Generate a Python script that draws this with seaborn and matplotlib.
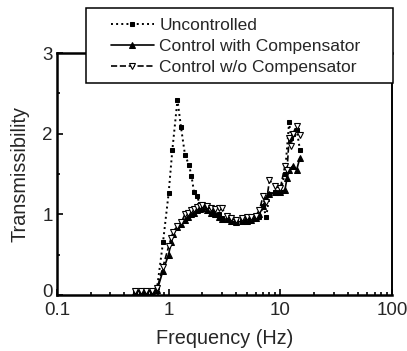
import numpy as np
import pandas as pd
import matplotlib
matplotlib.use("Agg")
import matplotlib.pyplot as plt
import seaborn as sns
from matplotlib.ticker import LogLocator, NullFormatter, FixedLocator
from matplotlib.patches import Rectangle
from matplotlib.transforms import ScaledTranslation

sns.set_style("ticks")
plt.rcParams['font.family'] = ['Liberation Sans', 'DejaVu Sans']

# Uncontrolled
f_unc = [0.50, 0.56, 0.63, 0.71, 0.79, 0.89, 1.00, 1.08, 1.20, 1.29, 1.40, 1.52, 1.60, 1.69,
         1.80, 1.90, 2.0, 2.2, 2.5, 2.8, 3.0, 3.5, 4.0, 4.5, 5.0, 5.5, 6.0, 6.5, 7.0, 7.5,
         8.0, 9.0, 10.0, 11.0, 12.0, 12.5, 13.0, 14.0, 15.0]
t_unc = [0.04, 0.05, 0.05, 0.04, 0.10, 0.65, 1.26, 1.80, 2.42, 2.08, 1.74, 1.61, 1.48, 1.27,
         1.22, 1.13, 1.12, 1.10, 1.05, 1.00, 0.95, 0.95, 0.92, 0.92, 0.93, 0.94, 0.95, 0.96, 1.10, 0.97,
         1.25, 1.27, 1.28, 1.50, 2.14, 1.95, 2.00, 2.05, 1.80]

# Control with Compensator
f_wc = [0.50, 0.56, 0.63, 0.71, 0.79, 0.89, 1.0, 1.05, 1.1, 1.2, 1.3, 1.4, 1.5, 1.6, 1.7, 1.8,
        1.9, 2.0, 2.2, 2.4, 2.6, 2.8, 3.0, 3.3, 3.6, 4.0, 4.5, 5.0, 5.5, 6.0, 6.5, 7.0, 7.5,
        8.0, 9.0, 10.0, 11.0, 11.5, 12.0, 13.0, 14.0, 15.0]
t_wc = [0.04, 0.04, 0.04, 0.04, 0.06, 0.30, 0.50, 0.65, 0.75, 0.84, 0.88, 0.93, 0.97, 1.00, 1.02, 1.05,
        1.07, 1.08, 1.05, 1.02, 1.00, 0.97, 0.94, 0.94, 0.92, 0.90, 0.91, 0.92, 0.93, 0.95, 1.00, 1.10, 1.20,
        1.25, 1.27, 1.28, 1.30, 1.45, 1.55, 1.60, 1.55, 1.70]

# Control w/o Compensator
f_nc = [0.50, 0.56, 0.63, 0.71, 0.79, 0.89, 1.0, 1.05, 1.1, 1.2, 1.3, 1.4, 1.5, 1.6, 1.7, 1.8,
        1.9, 2.0, 2.2, 2.4, 2.6, 2.8, 3.0, 3.3, 3.6, 4.0, 4.5, 5.0, 5.5, 6.0, 6.5, 7.0, 7.5,
        8.0, 9.0, 10.0, 11.0, 11.5, 12.0, 12.5, 13.0, 14.0, 15.0]
t_nc = [0.05, 0.05, 0.05, 0.05, 0.08, 0.35, 0.60, 0.70, 0.78, 0.86, 0.90, 1.00, 1.02, 1.05, 1.07, 1.09,
        1.10, 1.12, 1.10, 1.08, 1.06, 1.08, 1.08, 0.98, 0.95, 0.93, 0.95, 0.96, 0.97, 0.98, 1.05, 1.22, 1.15,
        1.42, 1.35, 1.32, 1.60, 1.55, 1.95, 1.85, 2.00, 2.10, 1.98]

labels = ["Uncontrolled", "Control with Compensator", "Control w/o Compensator"]
xtick_vals = [0.1, 1, 10, 100]
xtick_labels = ['0.1', '1', '10', '100']
ytick_vals = [0, 1, 2, 3]
ytick_labels = ['0', '1', '2', '3']

fig = plt.figure(figsize=(4.07, 3.51), dpi=100)
ax = fig.add_axes([0.140, 0.160, 0.823, 0.689])

sns.lineplot(x=f_unc, y=t_unc, ax=ax, sort=False, color='black', linestyle=':', linewidth=1.4,
             marker='s', markersize=3.3, markerfacecolor='black', markeredgecolor='black', label=labels[0])
sns.lineplot(x=f_wc, y=t_wc, ax=ax, sort=False, color='black', linestyle='-', linewidth=1.2,
             marker='^', markersize=3.8, markerfacecolor='black', markeredgecolor='black', label=labels[1])
sns.lineplot(x=f_nc, y=t_nc, ax=ax, sort=False, color='black', linestyle='--', linewidth=1.2,
             marker='v', markersize=4.3, markerfacecolor='white', markeredgecolor='black',
             markeredgewidth=0.8, label=labels[2])

ax.set_xscale('log')
ax.set_xlim(0.1, 100)
ax.set_ylim(0, 3)
ax.set_xticks(xtick_vals)
ax.set_xticklabels(xtick_labels)
ax.xaxis.set_minor_locator(LogLocator(base=10, subs=np.arange(2, 10)))
ax.xaxis.set_minor_formatter(NullFormatter())
ax.set_yticks(ytick_vals)
ax.set_yticklabels(ytick_labels)
ax.yaxis.set_minor_locator(FixedLocator([0.5, 1.5, 2.5]))
ax.tick_params(which='both', direction='in', color='black', labelsize=13.5, width=1.2)
ax.tick_params(which='major', length=4)
ax.tick_params(axis='x', which='major', pad=5)
ax.tick_params(axis='y', which='major', pad=3)
ax.tick_params(which='minor', length=2.5)
for s in ax.spines.values():
    s.set_linewidth(1.8)
    s.set_color('black')
ax.spines['right'].set_linewidth(1.4)

# nudge the "0" y label up slightly so it does not collide with "0.1"
lbl0 = ax.get_yticklabels()[0]
lbl0.set_transform(lbl0.get_transform() + ScaledTranslation(0, 3 / 72, fig.dpi_scale_trans))

ax.set_xlabel('Frequency (Hz)', fontsize=14.3, labelpad=7)
ax.set_ylabel('Transmissibility', fontsize=14.3, labelpad=9)

# legend frame drawn as a separate box, legend content inside it
frame = Rectangle((0.0866, 0.876), 0.9164, 0.310, transform=ax.transAxes, facecolor='white',
                  edgecolor='black', linewidth=1.1, clip_on=False, zorder=4)
ax.add_patch(frame)
leg = ax.legend(loc='upper left', bbox_to_anchor=(0.160, 1.145), frameon=False,
                fontsize=12.5, handlelength=2.5, handletextpad=0.3,
                borderpad=0, labelspacing=0.33, borderaxespad=0)
leg.set_zorder(5)

fig.savefig('out.png', dpi=100)
